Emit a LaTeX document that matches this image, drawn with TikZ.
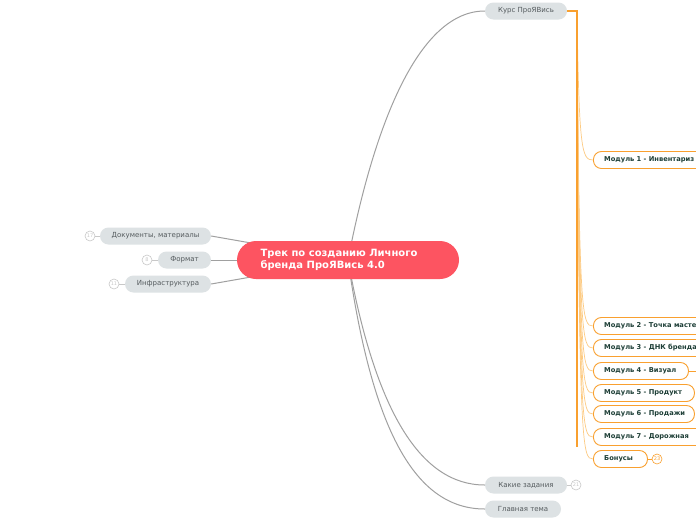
\documentclass[tikz,border=0pt]{standalone}
\usepackage{fontspec}
\setmainfont{DejaVu Sans}
\usetikzlibrary{backgrounds}
\definecolor{redc}{HTML}{FD5461}
\definecolor{pillc}{HTML}{DDE2E4}
\definecolor{pilltxt}{HTML}{555B5E}
\definecolor{linec}{HTML}{A0A0A0}
\definecolor{orc}{HTML}{F9A02F}
\definecolor{orlight}{HTML}{FDCB83}
\definecolor{modtxt}{HTML}{1E3F37}
\definecolor{circc}{HTML}{C8C8C8}
\tikzset{
  pill/.style={rounded corners=8.5pt, minimum height=17pt, fill=pillc, text=pilltxt,
    font=\fontsize{7}{8}\selectfont, inner sep=0pt},
  modbox/.style={rounded corners=8pt, minimum height=17pt, draw=orc, line width=0.9pt, fill=white,
    anchor=west, inner sep=0pt},
  modtext/.style={text=modtxt, font=\bfseries\fontsize{6.7}{8}\selectfont, anchor=west, inner sep=0pt},
  cnt/.style={circle, draw=circc, line width=0.6pt, fill=white, minimum size=10pt, inner sep=0pt,
    text=circc, font=\fontsize{5}{5}\selectfont},
  ocnt/.style={cnt, draw=orc, text=orc},
  gline/.style={draw=linec, line width=1pt},
  thin/.style={draw=orlight, line width=0.7pt},
}
\begin{document}
\begin{tikzpicture}[x=1pt,y=-1pt]
\useasboundingbox (0,0) rectangle (696,520);
\clip (0,0) rectangle (696,520);

% central
\node[rounded corners=19pt, fill=redc, minimum width=222pt, minimum height=38pt, inner sep=0pt] (c) at (348,260) {};
\node[text=white, font=\bfseries\fontsize{10}{11.5}\selectfont, align=left, anchor=west] (ct) at (257,260) {Трек по созданию Личного\\бренда ПроЯВись 4.0};

% left pills
\node[pill, minimum width=111pt] (doc) at (155.5,236) {Документы, материалы};
\node[pill, minimum width=53pt] (fmt) at (184.5,260) {Формат};
\node[pill, minimum width=86pt] (inf) at (168,284) {Инфраструктура};
\node[cnt] (n17) at (90,236) {17};
\node[cnt] (n8) at (147,260) {8};
\node[cnt] (n11) at (114,284) {11};

% right pills
\node[pill, minimum width=82pt] (kurs) at (526,11) {Курс ПроЯВись};
\node[pill, minimum width=82pt] (zad) at (526,485) {Какие задания};
\node[pill, minimum width=76pt] (tema) at (523,509) {Главная тема};
\node[cnt] (n21) at (576,485) {21};

% modules
\node[modbox, minimum width=140pt] (m1) at (593,160) {};
\node[modbox, minimum width=140pt] (m2) at (593,326) {};
\node[modbox, minimum width=140pt] (m3) at (593,348) {};
\node[modbox, minimum width=95pt] (m4) at (593,371) {};
\node[modbox, minimum width=101pt] (m5) at (593,393) {};
\node[modbox, minimum width=101pt] (m6) at (593,414) {};
\node[modbox, minimum width=140pt] (m7) at (593,437) {};
\node[modbox, minimum width=54pt] (bon) at (593,459) {};
\node[modtext] (t1) at (604,160) {Модуль 1 - Инвентариз};
\node[modtext] (t2) at (604,326) {Модуль 2 - Точка масте};
\node[modtext] (t3) at (604,348) {Модуль 3 - ДНК бренда};
\node[modtext] (t4) at (604,371) {Модуль 4 - Визуал};
\node[modtext] (t5) at (604,393) {Модуль 5 - Продукт};
\node[modtext] (t6) at (604,414) {Модуль 6 - Продажи};
\node[modtext] (t7) at (604,437) {Модуль 7 - Дорожная};
\node[modtext] (tb) at (604,459) {Бонусы};
\node[ocnt] (n23) at (657,459) {23};
\coordinate (m4end) at (700,371);

\begin{scope}[on background layer]
  \fill[white] (0,0) rectangle (696,520);
  % gray connectors
  \draw[gline] (doc.east) -- (c.center);
  \draw[gline] (fmt.east) -- (c.center);
  \draw[gline] (inf.east) -- (c.center);
  \draw[gline] (c.center) .. controls (375,120) and (420,11) .. (kurs.west);
  \draw[gline] (c.center) .. controls (375,410) and (420,485) .. (zad.west);
  \draw[gline] (c.center) .. controls (372,430) and (415,509) .. (tema.west);
  \draw[line width=0.6pt, draw=circc] (n17) -- (doc.west);
  \draw[line width=0.6pt, draw=circc] (n8) -- (fmt.west);
  \draw[line width=0.6pt, draw=circc] (n11) -- (inf.west);
  \draw[line width=0.6pt, draw=circc] (zad.east) -- (n21);
  % orange branch
  \coordinate (oj) at (577,11);
  \coordinate (ob) at (577,447);
  \foreach \m/\yy in {m1/160,m2/326,m3/348,m4/371,m5/393,m6/414,m7/437,bon/459}{
    \draw[thin] (oj) .. controls (579,\yy-8) and (582,\yy) .. (\m.west);
  }
  \draw[orc, line width=1.4pt] (kurs.east) -- (oj) -- (ob);
  \draw[orc, line width=0.9pt] (m4.east) -- (m4end);
  \draw[orc, line width=0.9pt] (bon.east) -- (n23);
\end{scope}
\end{tikzpicture}
\end{document}
